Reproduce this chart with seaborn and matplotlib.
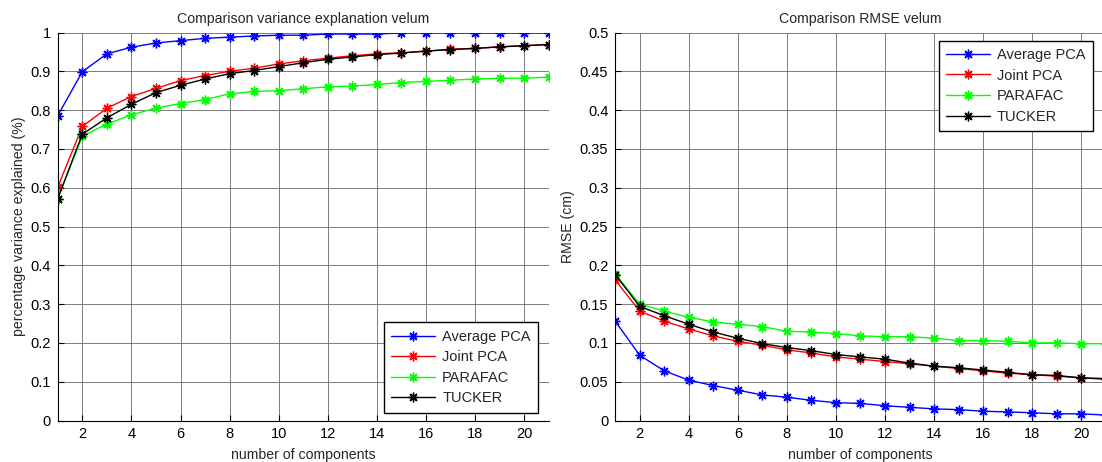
import numpy as np
import pandas as pd
import matplotlib
matplotlib.use("Agg")
import matplotlib.pyplot as plt
import seaborn as sns

components = list(range(1, 22))
methods = ["Average PCA", "Joint PCA", "PARAFAC", "TUCKER"]
colors = ["#0000ff", "#ff0000", "#00ff00", "#000000"]

var_avg_pca = [0.786, 0.899, 0.945, 0.962, 0.973, 0.979, 0.985, 0.988, 0.991, 0.993, 0.993,
               0.996, 0.996, 0.996, 0.999, 0.999, 0.999, 0.999, 0.999, 0.999, 0.999]
var_joint_pca = [0.602, 0.758, 0.805, 0.835, 0.856, 0.876, 0.889, 0.900, 0.908, 0.919, 0.927,
                 0.934, 0.940, 0.945, 0.948, 0.952, 0.957, 0.959, 0.963, 0.966, 0.969]
var_parafac = [0.572, 0.733, 0.764, 0.788, 0.805, 0.817, 0.827, 0.842, 0.848, 0.850, 0.855,
               0.860, 0.862, 0.866, 0.871, 0.874, 0.877, 0.880, 0.882, 0.882, 0.885]
var_tucker = [0.572, 0.738, 0.780, 0.815, 0.845, 0.864, 0.880, 0.894, 0.902, 0.912, 0.922,
              0.931, 0.937, 0.943, 0.947, 0.952, 0.956, 0.959, 0.963, 0.966, 0.969]

rmse_avg_pca = [0.128, 0.084, 0.064, 0.052, 0.045, 0.039, 0.033, 0.030, 0.026, 0.023, 0.022,
                0.019, 0.017, 0.015, 0.014, 0.012, 0.011, 0.010, 0.0086, 0.0086, 0.007]
rmse_joint_pca = [0.181, 0.141, 0.128, 0.118, 0.109, 0.102, 0.097, 0.091, 0.087, 0.082, 0.079,
                  0.076, 0.073, 0.070, 0.067, 0.064, 0.061, 0.059, 0.057, 0.055, 0.053]
rmse_parafac = [0.189, 0.150, 0.141, 0.133, 0.127, 0.124, 0.121, 0.115, 0.114, 0.112, 0.109,
                0.108, 0.108, 0.106, 0.103, 0.103, 0.102, 0.100, 0.100, 0.099, 0.099]
rmse_tucker = [0.188, 0.147, 0.135, 0.124, 0.114, 0.106, 0.099, 0.094, 0.090, 0.085, 0.082,
               0.079, 0.074, 0.070, 0.068, 0.065, 0.062, 0.059, 0.058, 0.055, 0.054]

x_ticks = [2, 4, 6, 8, 10, 12, 14, 16, 18, 20]
var_ticks = [0, 0.1, 0.2, 0.3, 0.4, 0.5, 0.6, 0.7, 0.8, 0.9, 1]
var_ticklabels = ["0", "0.1", "0.2", "0.3", "0.4", "0.5", "0.6", "0.7", "0.8", "0.9", "1"]
rmse_ticks = [0, 0.05, 0.1, 0.15, 0.2, 0.25, 0.3, 0.35, 0.4, 0.45, 0.5]
rmse_ticklabels = ["0", "0.05", "0.1", "0.15", "0.2", "0.25", "0.3", "0.35", "0.4", "0.45", "0.5"]

sns.set_style("white")
plt.rcParams["font.family"] = ["Liberation Sans", "DejaVu Sans"]

fig = plt.figure(figsize=(11.02, 4.62), dpi=100)
W, H = 1102, 462
ax1 = fig.add_axes([57.8 / W, 1 - 420.5 / H, (548.6 - 57.8) / W, (420.5 - 32.5) / H])
ax2 = fig.add_axes([615.2 / W, 1 - 420.5 / H, (1105.7 - 615.2) / W, (420.5 - 32.5) / H])

asterisk = (8, 2, 0)

def draw(ax, series, title, ylabel, yticks, yticklabels, ylim, legend_loc, legend_anchor):
    rows = []
    for m, vals in zip(methods, series):
        for c, v in zip(components, vals):
            rows.append({"components": c, "value": v, "method": m})
    df = pd.DataFrame(rows)
    for m, col in zip(methods, colors):
        sns.lineplot(data=df[df.method == m], x="components", y="value", ax=ax,
                     color=col, marker=asterisk, markersize=7, markeredgewidth=1.0,
                     markeredgecolor=col, linewidth=1.0, label=m, estimator=None)
    ax.set_xlim(1, 21)
    ax.set_ylim(*ylim)
    ax.set_xticks(x_ticks)
    ax.set_xticklabels([str(t) for t in x_ticks])
    ax.set_yticks(yticks)
    ax.set_yticklabels(yticklabels)
    ax.grid(True, color="#6e6e6e", linewidth=0.7, alpha=0.9)
    ax.set_axisbelow(True)
    for s in ["top", "right"]:
        ax.spines[s].set_visible(False)
    for s in ["left", "bottom"]:
        ax.spines[s].set_color("black")
        ax.spines[s].set_linewidth(0.8)
    ax.tick_params(direction="in", length=4, width=0.8, labelsize=10.5, colors="black",
                   left=True, bottom=True, pad=5)
    ax.set_title(title, fontsize=10.2, pad=7)
    ax.set_xlabel("number of components", fontsize=10.2, labelpad=5)
    ax.set_ylabel(ylabel, fontsize=10.2, labelpad=3)
    leg = ax.legend(loc=legend_loc, bbox_to_anchor=legend_anchor, fontsize=10.5,
                    frameon=True, fancybox=False, edgecolor="black", framealpha=1,
                    handlelength=3.0, borderpad=0.5, labelspacing=0.45, handletextpad=0.5,
                    borderaxespad=0)
    leg.get_frame().set_linewidth(1.0)

draw(ax1, [var_avg_pca, var_joint_pca, var_parafac, var_tucker],
     "Comparison variance explanation velum", "percentage variance explained (%)",
     var_ticks, var_ticklabels, (0, 1), "lower right", ((538 - 57.8) / 490.8, (420.5 - 412.7) / 388))
draw(ax2, [rmse_avg_pca, rmse_joint_pca, rmse_parafac, rmse_tucker],
     "Comparison RMSE velum", "RMSE (cm)",
     rmse_ticks, rmse_ticklabels, (0, 0.5), "upper right", ((1092.7 - 615.2) / 490.5, (420.5 - 40.7) / 388))

fig.savefig("out.png", dpi=100)
